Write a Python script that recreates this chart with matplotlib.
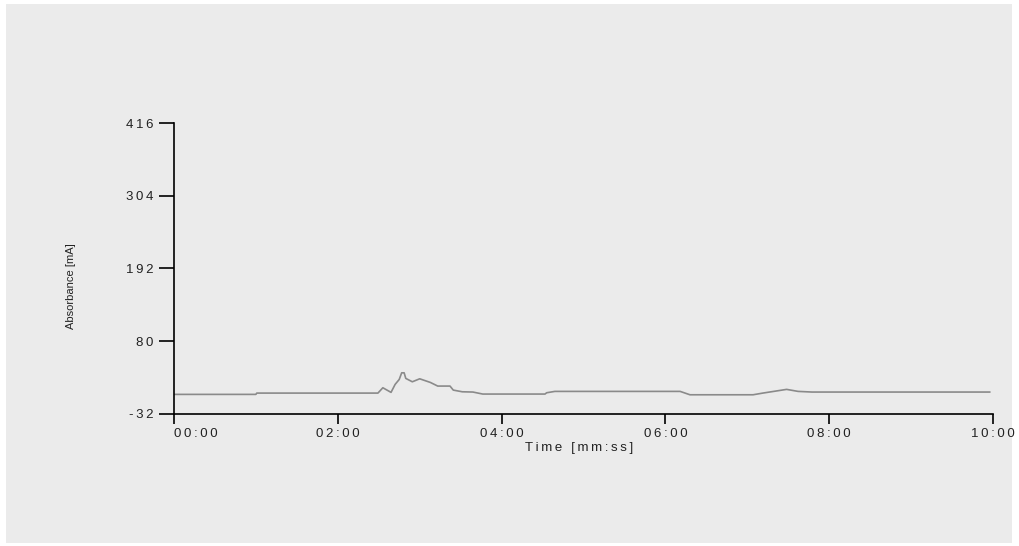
import matplotlib
matplotlib.use("Agg")
import matplotlib.pyplot as plt
from matplotlib.patches import Rectangle

# chromatogram trace, time in minutes, absorbance in mA
time_min = [0.0, 1.0, 1.01, 2.49, 2.55, 2.65, 2.70, 2.75, 2.78, 2.81, 2.83, 2.91,
            3.00, 3.13, 3.22, 3.37, 3.41, 3.52, 3.65, 3.77, 4.53, 4.55, 4.65,
            6.18, 6.30, 7.07, 7.19, 7.48, 7.62, 7.79, 9.96]
absorb = [-1.8, -1.8, 0.2, 0.2, 8.4, 1.3, 13.6, 21.2, 31.4, 31.4, 22.8, 17.6,
          22.2, 16.6, 11.0, 11.0, 4.8, 2.2, 1.8, -1.3, -1.3, 0.7, 2.8,
          2.8, -2.4, -2.4, 0.2, 5.9, 2.8, 1.8, 1.8]

x_ticks = [0, 2, 4, 6, 8, 10]
x_tick_labels = ["00:00", "02:00", "04:00", "06:00", "08:00", "10:00"]
y_ticks = [-32, 80, 192, 304, 416]
y_tick_labels = ["-32", "80", "192", "304", "416"]


def spaced(s):
    # the instrument software draws its text with wide letter spacing
    return "\u2009".join(s)


fig = plt.figure(figsize=(10.19, 5.46), dpi=100)
fig.patch.set_facecolor("white")
fig.patches.append(Rectangle((6 / 1019, 3 / 546), 1006 / 1019, 539 / 546,
                             transform=fig.transFigure, facecolor="#ebebeb",
                             edgecolor="none", zorder=-1))

ax = fig.add_axes([174 / 1019, 1 - 414 / 546, 819 / 1019, 291 / 546])
ax.set_facecolor("none")
ax.plot(time_min, absorb, color="#8a8a8a", lw=1.2)

ax.set_xlim(0, 10)
ax.set_ylim(-32, 416)
ax.spines["top"].set_visible(False)
ax.spines["right"].set_visible(False)
ax.spines["left"].set_linewidth(1.2)
ax.spines["bottom"].set_linewidth(1.2)

ax.set_xticks(x_ticks)
ax.set_xticklabels([spaced(t) for t in x_tick_labels], fontsize=9.5,
                   family="Liberation Sans", color="#222222")
ax.get_xticklabels()[0].set_horizontalalignment("left")
ax.set_yticks(y_ticks)
ax.set_yticklabels([spaced(t) for t in y_tick_labels], fontsize=9.5,
                   family="Liberation Sans", color="#222222")
ax.tick_params(axis="x", direction="out", length=7, width=1.2, pad=3)
ax.tick_params(axis="y", direction="out", length=11, width=1.2, pad=4)

ax.set_xlabel(spaced("Time [mm:ss]"), fontsize=9.5, family="Liberation Sans",
              color="#222222", labelpad=0)
ax.xaxis.set_label_coords(0.495, -0.095)
ax.set_ylabel("Absorbance [mA]", fontsize=8,
              family=["Liberation Sans Narrow", "Liberation Sans"],
              color="#222222")
ax.yaxis.set_label_coords(-0.12, 0.44)

fig.savefig("out.png", dpi=100)
